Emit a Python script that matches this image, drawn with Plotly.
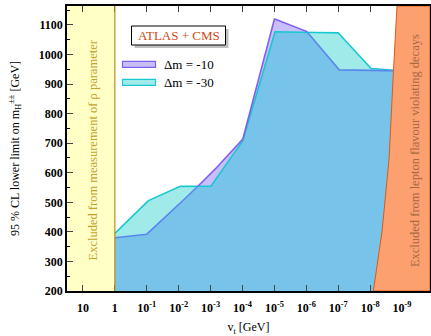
import numpy as np
import plotly.graph_objects as go

# ---- data ----
log10_vt = [0, -1, -2, -3, -4, -5, -6, -7, -8, -9]          # v_t = 10^k GeV
mass_dm10 = [380, 392, 492, 596, 710, 1120, 1080, 948, 946, 945]
mass_dm30 = [395, 503, 554, 553, 705, 1077, 1075, 1073, 953, 944]
tick_exp = [1, 0, -1, -2, -3, -4, -5, -6, -7, -8, -9]
tick_text = ["10", "1"] + [f"10<sup>{k}</sup>" for k in range(-1, -10, -1)]
# LFV exclusion boundary (mass vs log10 v_t)
lfv_mass = [200, 400, 643, 945, 1164]
lfv_log10_vt = [-8.10, -8.37, -8.59, -8.73, -8.84]
rho_log10_vt_limit = 0  # excluded for v_t > 1 GeV

YMIN, YMAX = 200, 1164
XMIN, XMAX = -1.5, 9.875

u = -np.array(log10_vt, dtype=float)
grid = np.linspace(u.min(), u.max(), 901)
p = np.interp(grid, u, mass_dm10)
c = np.interp(grid, u, mass_dm30)
ov = np.minimum(p, c)

C_PURPLE_FILL = "#c8bef8"
C_CYAN_FILL = "#a0eaea"
C_OVER_FILL = "#78c3ea"
C_PURPLE_LINE = "#8060f0"
C_PURPLE_LINE_UNDER = "#5a86ee"
C_CYAN_LINE = "#18c8d0"

fig = go.Figure()
fig.add_trace(go.Scatter(x=grid, y=p, mode="none", fill="tozeroy", fillcolor=C_PURPLE_FILL,
                         showlegend=False, hoverinfo="skip"))
fig.add_trace(go.Scatter(x=grid, y=c, mode="none", fill="tozeroy", fillcolor=C_CYAN_FILL,
                         showlegend=False, hoverinfo="skip"))
fig.add_trace(go.Scatter(x=grid, y=ov, mode="none", fill="tozeroy", fillcolor=C_OVER_FILL,
                         showlegend=False, hoverinfo="skip"))
# lines
p_top = np.where(p >= c, p, np.nan)
p_under = np.where(p <= c + 0.5, p, np.nan)
fig.add_trace(go.Scatter(x=grid, y=c, mode="lines", line=dict(color=C_CYAN_LINE, width=1.6),
                         showlegend=False, hoverinfo="skip"))
fig.add_trace(go.Scatter(x=grid, y=p_under, mode="lines", line=dict(color=C_PURPLE_LINE_UNDER, width=1.6),
                         showlegend=False, hoverinfo="skip"))
fig.add_trace(go.Scatter(x=grid, y=p_top, mode="lines", line=dict(color=C_PURPLE_LINE, width=1.6),
                         showlegend=False, hoverinfo="skip"))

# LFV excluded region (shape path built from the boundary arrays)
lfv_u = [-v for v in lfv_log10_vt]
poly = [(a, b) for a, b in zip(lfv_u, lfv_mass)] + [(XMAX, YMAX), (XMAX, YMIN)]
path_fill = "M " + " L ".join(f"{a},{b}" for a, b in poly) + " Z"
fig.add_shape(type="path", path=path_fill, fillcolor="#fca070",
              line=dict(color="#e05a10", width=1), layer="above")

# rho parameter excluded region
fig.add_shape(type="rect", x0=XMIN, x1=-rho_log10_vt_limit, y0=YMIN, y1=YMAX,
              fillcolor="#ffffc6", line=dict(width=0), layer="below")
fig.add_shape(type="line", x0=-rho_log10_vt_limit, x1=-rho_log10_vt_limit, y0=YMIN, y1=YMAX,
              line=dict(color="#b89018", width=1.2), layer="above")

SERIF = "Liberation Serif, DejaVu Serif, serif"

fig.add_annotation(x=(XMIN - rho_log10_vt_limit) / 2 + 0.05, y=(YMIN + YMAX) / 2 - 5,
                   text="Excluded from measurement of ρ parameter", textangle=-90,
                   xanchor="center", yanchor="middle",
                   showarrow=False, font=dict(family=SERIF, size=12.5, color="#c8a030"))
fig.add_annotation(x=9.4, y=(YMIN + YMAX) / 2 - 6,
                   text="Excluded from lepton flavour violating decays", textangle=-90,
                   xanchor="center", yanchor="middle",
                   showarrow=False, font=dict(family=SERIF, size=12.5, color="#a86840"))

# legend box (paper coords; plot area 67..430 x 6..291 px)
L, R, T, B = 67, 430, 6, 291
def px(x): return (x - L) / (R - L)
def py(y): return (B - y) / (B - T)

fig.add_shape(type="rect", xref="paper", yref="paper", x0=px(134.5), x1=px(228.5), y0=py(48), y1=py(29),
              fillcolor="#c0c0c0", line=dict(width=0))
fig.add_shape(type="rect", xref="paper", yref="paper", x0=px(131.5), x1=px(225.5), y0=py(45), y1=py(26),
              fillcolor="white", line=dict(color="black", width=1))
fig.add_annotation(xref="paper", yref="paper", x=px(178.5), y=py(35.5), text="ATLAS + CMS",
                   xanchor="center", yanchor="middle",
                   showarrow=False, font=dict(family=SERIF, size=13, color="#d04818"))
for yy, fc, lc, lab in [(64.3, C_PURPLE_FILL, C_PURPLE_LINE, "Δm = -10"),
                        (82.3, C_CYAN_FILL, C_CYAN_LINE, "Δm = -30")]:
    fig.add_shape(type="rect", xref="paper", yref="paper", x0=px(122.5), x1=px(155.5),
                  y0=py(yy + 3), y1=py(yy - 3), fillcolor=fc, line=dict(color=lc, width=1.2))
    fig.add_annotation(xref="paper", yref="paper", x=px(162), y=py(yy), xanchor="left", yanchor="middle",
                       text=lab, showarrow=False, font=dict(family=SERIF, size=13, color="black"))

fig.update_layout(
    width=431, height=336,
    margin=dict(l=67, r=1, t=6, b=45, autoexpand=False),
    plot_bgcolor="white", paper_bgcolor="white",
    font=dict(family=SERIF, color="black"),
    hovermode=False,
    xaxis=dict(range=[XMIN, XMAX], tickvals=[-k for k in tick_exp], ticktext=tick_text,
               ticks="inside", ticklen=6, tickwidth=1, mirror="ticks", showline=True,
               linecolor="black", linewidth=1.5, showgrid=False, zeroline=False, automargin=False,
               ticklabelstandoff=5,
               tickfont=dict(family=SERIF, size=12, weight="bold"),
               title=dict(text="v<sub>t</sub> [GeV]", font=dict(family=SERIF, size=12), standoff=10)),
    yaxis=dict(range=[YMIN, YMAX], tickvals=list(range(200, 1101, 100)),
               ticks="inside", ticklen=6, tickwidth=1, mirror="ticks", showline=True,
               linecolor="black", linewidth=1.5, showgrid=False, zeroline=False, automargin=False,
               minor=dict(dtick=50, ticks="inside", ticklen=3, tickcolor="black"),
               tickfont=dict(family=SERIF, size=12, weight="bold"),
               title=dict(text="95 % CL lower limit on m<sub>H</sub><sup>±±</sup> [GeV]",
                          font=dict(family=SERIF, size=12), standoff=17)),
)

fig.write_html("out.html", config={"displayModeBar": False},
               post_script="document.body.style.margin='0';document.body.style.overflow='hidden';")
